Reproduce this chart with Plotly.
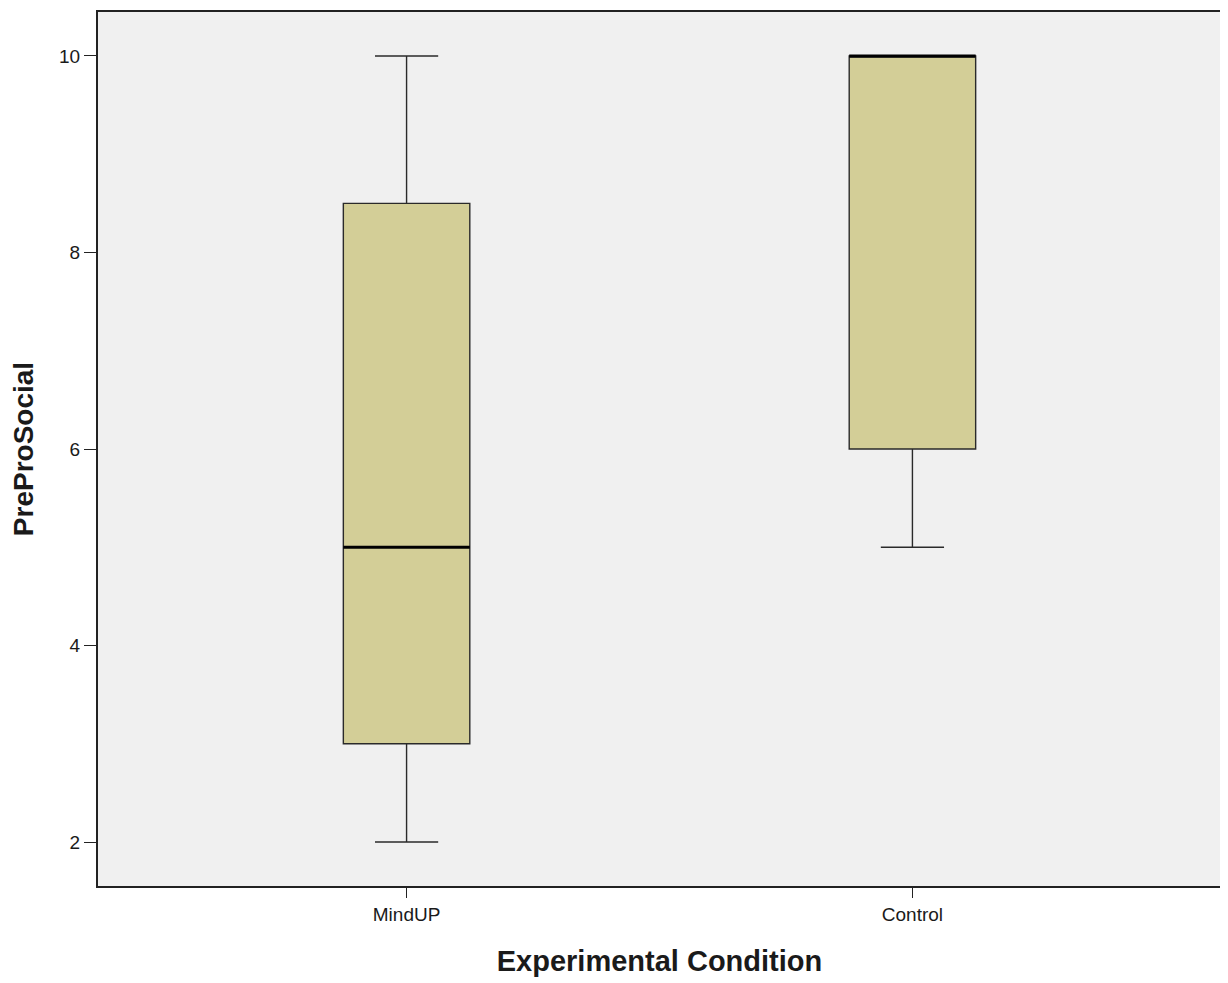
import plotly.graph_objects as go

categories = ["MindUP", "Control"]
q1 = [3, 6]
median = [5, 10]
q3 = [8.5, 10]
lower = [2, 5]
upper = [10, 10]
y_ticks = [2, 4, 6, 8, 10]

box_w = 0.25
xpos = list(range(len(categories)))

fig = go.Figure()
fig.add_trace(go.Box(
    x=xpos, q1=q1, median=median, q3=q3, lowerfence=lower, upperfence=upper,
    width=box_w, whiskerwidth=0.5, fillcolor="#d3ce97",
    line=dict(color="#2a2a2a", width=1.4), boxpoints=False, showlegend=False,
    hoverinfo="skip",
))
for i, m in enumerate(median):
    fig.add_trace(go.Scatter(
        x=[xpos[i] - box_w / 2, xpos[i] + box_w / 2], y=[m, m], mode="lines",
        line=dict(color="black", width=3), showlegend=False, hoverinfo="skip",
    ))

fig.update_layout(
    width=1220, height=975,
    margin=dict(l=90, r=7, t=2, b=97),
    paper_bgcolor="white", plot_bgcolor="#f0f0f0",
    font=dict(family="Liberation Sans, Arial, sans-serif", color="#1a1a1a", size=19),
)
fig.update_xaxes(
    range=[-0.61, 1.61], tickvals=xpos, ticktext=categories,
    showgrid=False, zeroline=False, showline=True, linecolor="#222", linewidth=2,
    mirror=True, ticks="outside", ticklen=10, tickcolor="#222",
    tickfont=dict(size=19),
    title=dict(text="<b>Experimental Condition</b>", font=dict(size=29), standoff=27),
)
fig.update_yaxes(
    range=[1.553, 10.447], tickvals=y_ticks,
    showgrid=False, zeroline=False, showline=True, linecolor="#222", linewidth=2,
    mirror=True, ticks="outside", ticklen=12, tickcolor="#222",
    tickfont=dict(size=19),
    title=dict(text="<b>PreProSocial</b>", font=dict(size=28), standoff=24),
)
fig.write_html("out.html")
